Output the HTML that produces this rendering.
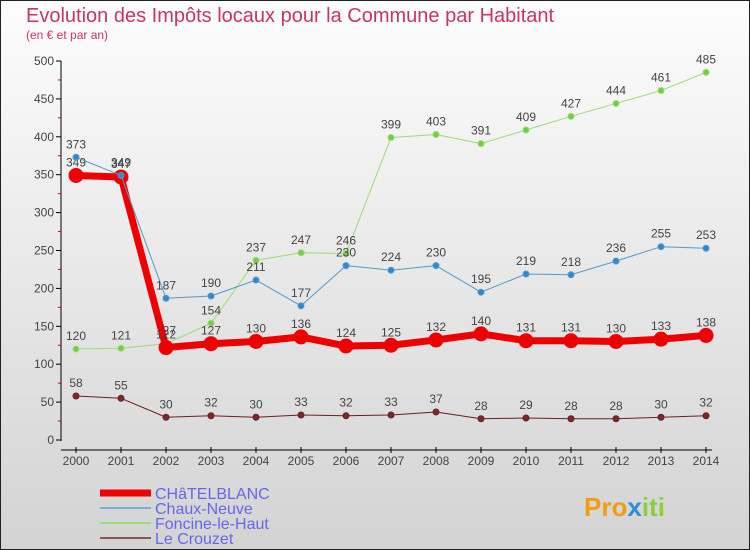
<!DOCTYPE html>
<html><head><meta charset="utf-8"><style>
body{margin:0}
#c{width:750px;height:550px;position:relative;overflow:hidden;font-family:"Liberation Sans",sans-serif}
svg text{font-family:"Liberation Sans",sans-serif}
</style></head><body>
<div id="c">
<svg id="s" width="750" height="550" xmlns="http://www.w3.org/2000/svg">
<defs><linearGradient id="bg" x1="0" y1="0" x2="0" y2="1"><stop offset="0" stop-color="#fdfdfd"/><stop offset="1" stop-color="#d3d3d3"/></linearGradient></defs>
<rect x="0.5" y="0.5" width="749" height="549" fill="url(#bg)" stroke="#222"/>
<text x="26" y="22" font-size="20" fill="#c8336a">Evolution des Impôts locaux pour la Commune par Habitant</text>
<text x="26" y="39" font-size="12" fill="#c8336a">(en € et par an)</text>
<g id="axes"></g><g id="series"></g>
<g font-size="16">
<line x1="100" y1="493" x2="151" y2="493" stroke="#e00" stroke-width="7"/><text x="155" y="499" fill="#6666ee">CHâTELBLANC</text>
<line x1="100" y1="508" x2="151" y2="508" stroke="#7aaed0" stroke-width="2"/><text x="155" y="514" fill="#6666ee">Chaux-Neuve</text>
<line x1="100" y1="523" x2="151" y2="523" stroke="#99dd77" stroke-width="2"/><text x="155" y="529" fill="#6666ee">Foncine-le-Haut</text>
<line x1="100" y1="538" x2="151" y2="538" stroke="#8b5555" stroke-width="2"/><text x="155" y="544" fill="#6666ee">Le Crouzet</text>
</g>
<text x="584" y="516" font-size="26" font-weight="bold" fill="#f39c12">Pro<tspan fill="#2a8fd8">x</tspan><tspan fill="#8ccf3c">iti</tspan></text>
</svg></div>
<script>
const years=[2000,2001,2002,2003,2004,2005,2006,2007,2008,2009,2010,2011,2012,2013,2014];
const chatelblanc=[349,347,122,127,130,136,124,125,132,140,131,131,130,133,138];
const chauxNeuve=[373,349,187,190,211,177,230,224,230,195,219,218,236,255,253];
const foncine=[120,121,127,154,237,247,246,399,403,391,409,427,444,461,485];
const crouzet=[58,55,30,32,30,33,32,33,37,28,29,28,28,30,32];
const yTicks=[0,50,100,150,200,250,300,350,400,450,500];
const NS="http://www.w3.org/2000/svg";
const X=i=>76+i*45, Y=v=>440-v*0.758;
function mk(t,a,p){const e=document.createElementNS(NS,t);for(const k in a)e.setAttribute(k,a[k]);p.appendChild(e);return e;}
const ax=document.getElementById('axes'), sg=document.getElementById('series');
let l=mk('line',{x1:61,y1:Y(500),x2:61,y2:441,stroke:'#000'},ax);


l=mk('line',{x1:61,y1:450,x2:712,y2:450,stroke:'#000'},ax);


yTicks.forEach((v,i)=>{
 mk('line',{x1:56,x2:61,y1:Y(v),y2:Y(v),stroke:'#000'},ax);
 if(i<yTicks.length-1) mk('line',{x1:58,x2:61,y1:Y(v+25),y2:Y(v+25),stroke:'#d00'},ax);
 const t=mk('text',{x:54,y:Y(v)+4,'font-size':12,fill:'#444','text-anchor':'end'},ax);t.textContent=v;
 
 
});
years.forEach((y,i)=>{
 mk('line',{x1:X(i),x2:X(i),y1:447,y2:453,stroke:'#000'},ax);
 const t=mk('text',{x:X(i),y:465,'font-size':12,fill:'#444','text-anchor':'middle'},ax);t.textContent=y;
 
 
});
function series(data,name,color,w,r,dot){
 const g=mk('g',{},sg);
 
 
 mk('polyline',{points:data.map((v,i)=>X(i)+','+Y(v)).join(' '),fill:'none',stroke:color,'stroke-width':w,'stroke-linejoin':'round'},g);
 data.forEach((v,i)=>{
  const c=mk('circle',{cx:X(i),cy:Y(v),r:r,fill:dot,stroke:color,'stroke-width':1},g);
  
  
  const t=mk('text',{x:X(i),y:Y(v)-9,'font-size':12,fill:'#444','text-anchor':'middle'},g);t.textContent=v;
  
  
 });
}
series(crouzet,'le-crouzet-series','#6b2020',1,3,'#7a2a2a');
series(foncine,'foncine-series','#99dd77',1,3,'#77cc44');
series(chatelblanc,'chatelblanc-series','#ee0000',7,7,'#ee0000');
series(chauxNeuve,'chaux-neuve-series','#5599cc',1,3,'#3388cc');
</script>
</body></html>
